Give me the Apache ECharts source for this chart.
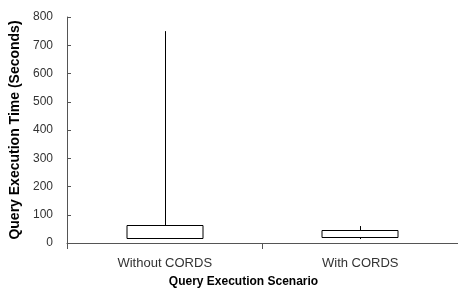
<!DOCTYPE html>
<html lang="en">
<head>
<meta charset="UTF-8">
<title>Query Execution Time</title>
<script src="https://cdn.jsdelivr.net/npm/echarts@6/dist/echarts.min.js"></script>
<style>
  html, body { margin: 0; padding: 0; background: #fff; }
  #chart { width: 458px; height: 299px; }
</style>
</head>
<body>
<div id="chart"></div>
<script>
// categories and box values (seconds): whisker low, box bottom, box top, whisker high
var scenarios = ['Without CORDS', 'With CORDS'];
var whiskerLow = [19, 14];
var boxLow = [19, 19];
var boxHigh = [64, 45];
var whiskerHigh = [750, 60];
var yTicks = [0, 100, 200, 300, 400, 500, 600, 700, 800];

var chart = echarts.init(document.getElementById('chart'));

var boxData = scenarios.map(function (name, i) {
  return [i, whiskerLow[i], boxLow[i], boxHigh[i], whiskerHigh[i]];
});

function renderBox(params, api) {
  var idx = api.value(0);
  var lowPt = api.coord([idx, api.value(1)]);
  var bPt = api.coord([idx, api.value(2)]);
  var tPt = api.coord([idx, api.value(3)]);
  var highPt = api.coord([idx, api.value(4)]);
  var bandW = api.size([1, 0])[0];
  var w = bandW * 0.39;
  var x = Math.round(bPt[0]) + 0.5;
  return {
    type: 'group',
    children: [
      {
        type: 'line',
        shape: { x1: x, y1: lowPt[1], x2: x, y2: highPt[1] },
        style: { stroke: '#000', lineWidth: 1 }
      },
      {
        type: 'rect',
        shape: { x: Math.round(x - w / 2), y: Math.round(tPt[1]) + 0.5, width: Math.round(w), height: Math.round(bPt[1] - tPt[1]) },
        style: { fill: '#fff', stroke: '#000', lineWidth: 1 }
      }
    ]
  };
}

var option = {
  animation: false,
  backgroundColor: '#fff',
  textStyle: { fontFamily: 'Liberation Sans, Arial, sans-serif' },
  grid: { left: 67, right: -3, top: 17, bottom: 56 },
  xAxis: {
    type: 'category',
    data: scenarios,
    name: 'Query Execution Scenario',
    nameLocation: 'middle',
    nameGap: 33,
    // title sits a little left of the plot centre in the original
    nameTextStyle: { fontSize: 12, fontWeight: 'bold', color: '#000', padding: [0, 38, 0, 0] },
    axisLine: { lineStyle: { color: '#555', width: 1 } },
    axisTick: { show: true, length: 6, lineStyle: { color: '#555' } },
    axisLabel: { fontSize: 13, color: '#333', margin: 14 },
    splitLine: { show: false }
  },
  yAxis: {
    type: 'value',
    min: yTicks[0],
    max: yTicks[yTicks.length - 1],
    interval: 100,
    name: 'Query Execution Time (Seconds)',
    nameLocation: 'middle',
    nameGap: 41,
    nameTextStyle: { fontSize: 14, fontWeight: 'bold', color: '#000' },
    axisLine: { show: true, lineStyle: { color: '#555', width: 1 } },
    axisTick: { show: true, inside: true, length: 4, lineStyle: { color: '#555' } },
    axisLabel: { fontSize: 12, color: '#333', margin: 14 },
    splitLine: { show: false }
  },
  series: [{
    type: 'custom',
    renderItem: renderBox,
    encode: { x: 0, y: [1, 2, 3, 4] },
    data: boxData
  }]
};

chart.setOption(option);
</script>
</body>
</html>
